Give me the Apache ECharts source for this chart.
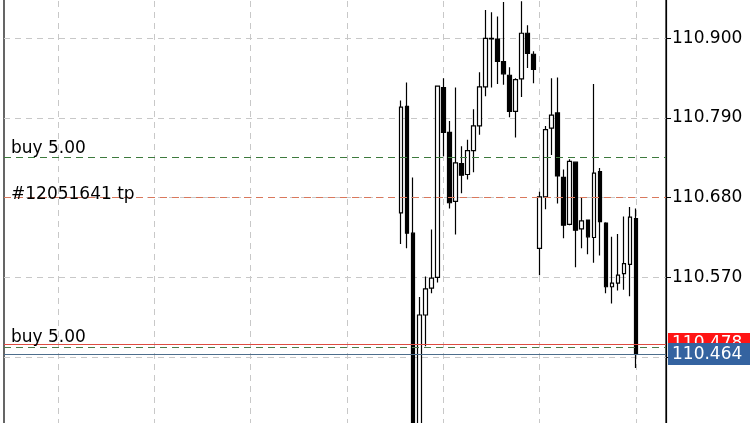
<!DOCTYPE html>
<html><head><meta charset="utf-8">
<script src="https://cdn.jsdelivr.net/npm/echarts@6/dist/echarts.min.js"></script>
<style>html,body{margin:0;padding:0;background:#fff}#c{width:750px;height:423px}</style>
</head><body><div id="c"></div>
<script>
// candle values (oldest -> newest)
const opens  = [110.659,110.806,110.631,110.362,110.518,110.555,110.570,110.832,110.770,110.675,110.727,110.712,110.745,110.779,110.833,110.899,110.899,110.868,110.849,110.799,110.844,110.907,110.878,110.610,110.681,110.776,110.797,110.708,110.643,110.729,110.637,110.649,110.625,110.716,110.645,110.557,110.562,110.575,110.588,110.651];
const closes = [110.805,110.631,110.362,110.518,110.554,110.569,110.834,110.770,110.673,110.728,110.711,110.745,110.779,110.833,110.900,110.900,110.868,110.851,110.799,110.843,110.907,110.879,110.857,110.681,110.774,110.794,110.710,110.642,110.730,110.635,110.648,110.626,110.714,110.647,110.557,110.562,110.573,110.589,110.653,110.464];
const lows   = [110.616,110.610,110.356,110.357,110.475,110.548,110.563,110.737,110.665,110.629,110.686,110.705,110.715,110.767,110.820,110.832,110.837,110.836,110.791,110.763,110.819,110.859,110.838,110.573,110.664,110.739,110.672,110.624,110.642,110.584,110.610,110.602,110.590,110.600,110.548,110.534,110.552,110.553,110.544,110.445];
const highs  = [110.814,110.839,110.708,110.543,110.571,110.636,110.835,110.845,110.786,110.832,110.751,110.760,110.802,110.853,110.939,110.936,110.930,110.950,110.860,110.845,110.951,110.918,110.882,110.688,110.779,110.845,110.846,110.719,110.733,110.730,110.681,110.650,110.837,110.721,110.646,110.626,110.630,110.654,110.667,110.665];
const emptyBefore = 66, emptyAfter = 5;

// horizontal level lines
const levelPrices = [110.736, 110.680, 110.478, 110.474, 110.464];
const levelTexts  = ['buy 5.00', '#12051641 tp', '110.478', 'buy 5.00', '110.464'];
const levelKinds  = ['order', 'order', 'price', 'order', 'price'];
const levelColors = ['#3d7a3d', '#d9785c', '#dd4c42', '#4f7a4a', '#4d6e8c'];
const levelBoxColors = [null, null, '#ff1414', null, '#3463a0'];
const levelLabelLift = [-0.5, -5.8, 0, 0.7, 0];

// y axis ticks
const yMin = 110.35, yMax = 110.96668, yStep = 0.11;

const total = emptyBefore + opens.length + emptyAfter;
const categories = [];
for (let i = 0; i < total; i++) categories.push(String(i));
const candles = [];
for (let i = 0; i < emptyBefore; i++) candles.push('-');
for (let i = 0; i < opens.length; i++) candles.push([opens[i], closes[i], lows[i], highs[i]]);
for (let i = 0; i < emptyAfter; i++) candles.push('-');

const FONT = 'DejaVu Sans';
const FS = 17;
const markData = levelPrices.map((p, i) => {
  const item = {
    yAxis: p,
    lineStyle: {
      color: levelColors[i], width: 1,
      type: levelKinds[i] === 'order' ? [7, 5] : 'solid'
    }
  };
  if (levelKinds[i] === 'order') {
    item.label = {
      show: true, position: 'insideStartTop', distance: [7, levelLabelLift[i]],
      formatter: levelTexts[i], color: '#000',
      fontFamily: FONT, fontSize: FS, lineHeight: 18
    };
  } else {
    item.label = {
      show: true, position: 'end', distance: [2, 0],
      formatter: levelTexts[i], color: '#fff',
      backgroundColor: levelBoxColors[i],
      padding: [2, 8, 2, 4],
      fontFamily: FONT, fontSize: FS, lineHeight: 18
    };
  }
  return item;
});

const chart = echarts.init(document.getElementById('c'), null, {renderer: 'canvas'});
chart.setOption({
  animation: false,
  backgroundColor: '#fff',
  grid: {
    left: 4, right: 84, top: -10, bottom: -13.7,
    outerBoundsMode: 'none', containLabel: false,
    show: true, borderColor: '#000', borderWidth: 1.2, backgroundColor: 'transparent'
  },
  xAxis: {
    type: 'category', data: categories, boundaryGap: false,
    axisLine: {show: false}, axisTick: {show: false}, axisLabel: {show: false},
    splitLine: {
      show: true,
      interval: (idx) => idx % 16 === 9,
      lineStyle: {color: '#c8c8c8', type: [6, 5], width: 1}
    }
  },
  yAxis: {
    type: 'value', position: 'right', min: yMin, max: yMax, interval: yStep,
    axisLine: {show: true, lineStyle: {color: '#000', width: 1.2}},
    axisTick: {show: true, length: 5, lineStyle: {color: '#000'}},
    axisLabel: {
      margin: 6, color: '#000', fontFamily: FONT, fontSize: FS,
      formatter: (v) => Number(v).toFixed(3)
    },
    splitLine: {show: true, lineStyle: {color: '#c8c8c8', type: [6, 5], width: 1}}
  },
  series: [{
    type: 'candlestick',
    data: candles,
    barWidth: 4,
    itemStyle: {
      color: '#fff', color0: '#000',
      borderColor: '#000', borderColor0: '#000', borderWidth: 1.2
    },
    markLine: {
      silent: true, symbol: ['none', 'none'], animation: false, precision: 3,
      data: markData
    }
  }]
});
</script>
</body></html>
